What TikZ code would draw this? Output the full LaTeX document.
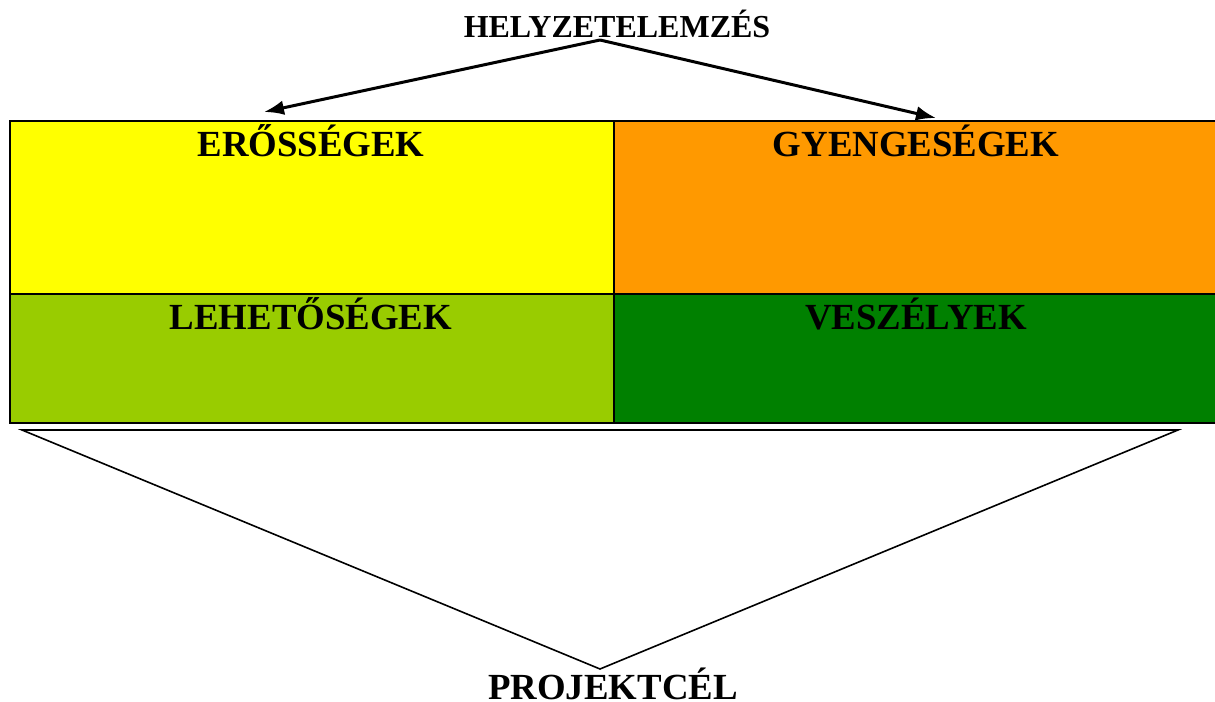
\documentclass[tikz,border=0pt]{standalone}
\usepackage{fontspec}
\setmainfont{Liberation Serif}
\usetikzlibrary{arrows.meta}

\tikzset{every picture/.style={line width=0.75pt}}
\tikzset{
  swotlabel/.style={anchor=base,inner sep=0.75pt,font=\fontsize{27.6}{30}\selectfont\bfseries},
  swotcell/.style={draw=black,line width=1.5pt},
  helyarrow/.style={line width=2.25pt,-{Latex[length=15pt,width=11pt]}},
}

\begin{document}
\begin{tikzpicture}[x=0.75pt,y=0.75pt,yscale=-1,xscale=1]
	\useasboundingbox (0,0) rectangle (1215,702);

	%Shape: Rectangle [id:erosseg]
	\draw [swotcell,fill={rgb, 255:red, 255; green, 255; blue, 0 }] (10,121) rectangle (614,294);
	%Shape: Rectangle [id:gyengeseg]
	\draw [swotcell,fill={rgb, 255:red, 255; green, 153; blue, 0 }] (614,121) rectangle (1220,294);
	%Shape: Rectangle [id:lehetoseg]
	\draw [swotcell,fill={rgb, 255:red, 153; green, 204; blue, 0 }] (10,294) rectangle (614,423);
	%Shape: Rectangle [id:veszely]
	\draw [swotcell,fill={rgb, 255:red, 0; green, 128; blue, 0 }] (614,294) rectangle (1220,423);

	%Points of the arrows and the funnel
	\coordinate (hapex) at (600,40);
	\coordinate (erotip) at (264,112);
	\coordinate (gyentip) at (936,118);
	\coordinate (funleft) at (22,430);
	\coordinate (funright) at (1178,430);
	\coordinate (funapex) at (600,669);

	%Straight Lines [id:helyzet-arrows]
	\draw [helyarrow] (hapex) -- (erotip);
	\draw [helyarrow] (hapex) -- (gyentip);
	%Shape: Triangle [id:projekt-funnel]
	\draw [line width=1.2pt] (funleft) -- (funright) -- (funapex) -- cycle;

	% Text Node
	\node [swotlabel,font=\fontsize{24}{26}\selectfont\bfseries] (helyzet) at (617,38) {HELYZETELEMZÉS};
	% Text Node
	\node [swotlabel] (eros) at (311,157) {ERŐSSÉGEK};
	% Text Node
	\node [swotlabel] (gyenge) at (916,157) {GYENGESÉGEK};
	% Text Node
	\node [swotlabel] (lehet) at (311,330) {LEHETŐSÉGEK};
	% Text Node
	\node [swotlabel] (veszely) at (916,330) {VESZÉLYEK};
	% Text Node
	\node [swotlabel] (projekt) at (613,699) {PROJEKTCÉL};
\end{tikzpicture}
\end{document}
